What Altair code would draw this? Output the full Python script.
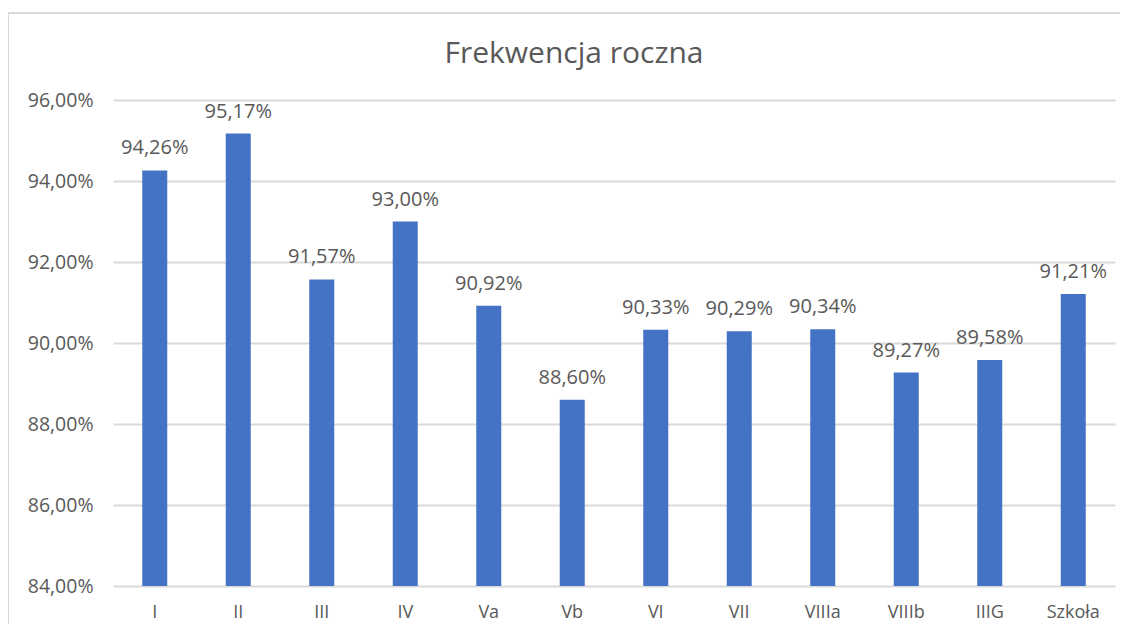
import altair as alt
import pandas as pd

categories = ["I", "II", "III", "IV", "Va", "Vb", "VI", "VII", "VIIIa", "VIIIb", "IIIG", "Szkoła"]
values = [94.26, 95.17, 91.57, 93.00, 90.92, 88.60, 90.33, 90.29, 90.34, 89.27, 89.58, 91.21]
y_ticks = [84, 86, 88, 90, 92, 94, 96]

df = pd.DataFrame({"klasa": categories, "frekwencja": values})

FONT = "Open Sans"
GREY = "#595959"
BLUE = "#4472C4"

base = alt.Chart(df)

x_enc = alt.X("klasa:N", sort=categories, title=None,
              scale=alt.Scale(paddingInner=0.0, paddingOuter=0.0),
              axis=alt.Axis(labelAngle=0, ticks=False, domain=False, labelPadding=17,
                            labelFontSize=18, labelColor=GREY, labelFont=FONT, grid=False))
y_enc = alt.Y("frekwencja:Q", title=None,
              scale=alt.Scale(domain=[84, 96], zero=False, nice=False),
              axis=alt.Axis(values=y_ticks, ticks=False, domain=False, labelPadding=20,
                            labelFontSize=19.5, labelColor=GREY, labelFont=FONT,
                            gridColor="#d9d9d9", gridWidth=2,
                            labelExpr="replace(format(datum.value, '.2f'), '.', ',') + '%'"))

bars = base.mark_bar(color=BLUE, size=25, clip=True).encode(x=x_enc, y=y_enc)

labels = base.transform_calculate(
    lab="replace(format(datum.frekwencja, '.2f'), '.', ',') + '%'"
).mark_text(baseline="alphabetic", dy=-16, fontSize=20, font=FONT, color=GREY).encode(
    x=alt.X("klasa:N", sort=categories),
    y=alt.Y("frekwencja:Q"),
    text="lab:N",
)

border = alt.Chart(pd.DataFrame({"a": [0]})).mark_rect(
    fill=None, stroke="#d9d9d9", strokeWidth=2, clip=False
).encode(x=alt.value(-105), x2=alt.value(1040), y=alt.value(-87), y2=alt.value(560))

chart = alt.layer(border, bars, labels).properties(
    width=1002, height=486,
    title=alt.TitleParams("Frekwencja roczna", font=FONT, fontSize=30, fontWeight="normal",
                          color=GREY, anchor="middle", dx=-40, offset=-57),
    autosize=alt.AutoSizeParams(type="none"),
    padding={"left": 105, "top": 92, "right": 5, "bottom": 38},
).configure_view(stroke=None)

chart.save("out.html", embed_options={"renderer": "svg", "actions": False})
